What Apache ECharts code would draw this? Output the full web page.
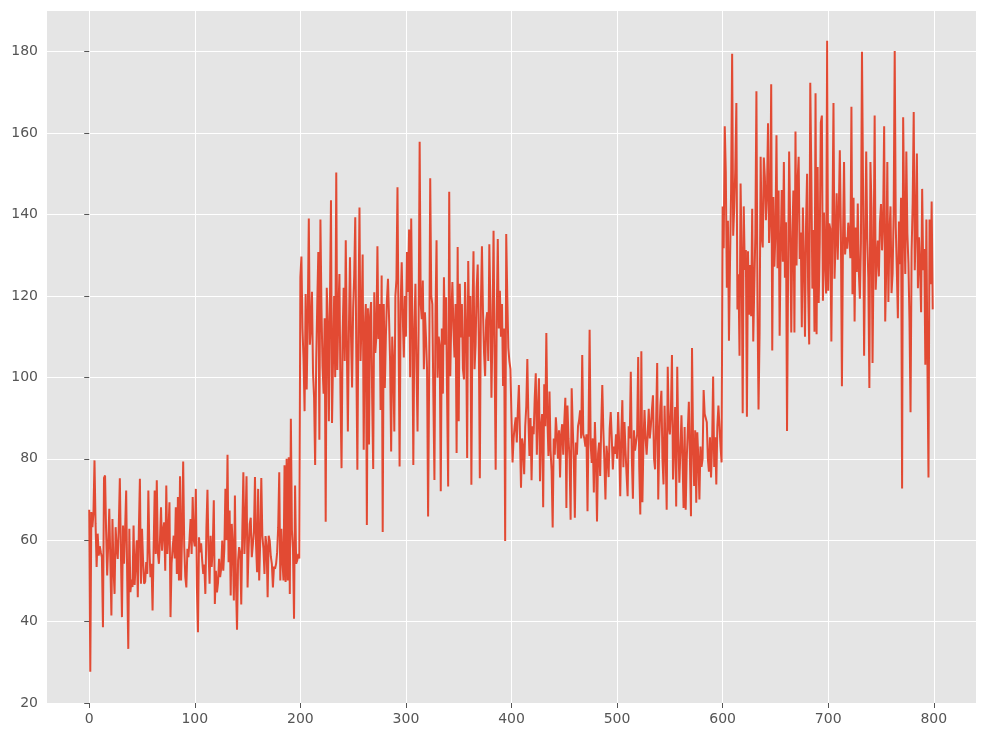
<!DOCTYPE html>
<html>
<head>
<meta charset="utf-8">
<script src="https://cdn.jsdelivr.net/npm/echarts@6/dist/echarts.min.js"></script>
<style>
  html, body { margin: 0; padding: 0; background: #fff; }
  #chart { width: 986px; height: 736px; }
</style>
</head>
<body>
<div id="chart"></div>
<script>
  // values, one array per regime
  const part1 = [
    67.5,27.7,66.9,63.2,66.5,79.6,64.0,53.4,61.6,56.2,
    58.5,57.0,55.8,38.6,75.3,75.9,62.0,51.3,59.1,67.7,
    55.0,41.5,65.2,53.0,46.8,63.2,58.0,55.4,63.5,75.2,
    57.0,41.1,63.6,54.2,62.8,72.2,50.0,33.3,62.8,47.2,
    50.3,48.5,63.6,49.0,54.2,60.0,46.0,62.5,75.1,49.3,
    62.8,55.0,49.3,49.8,54.6,51.7,72.2,58.0,50.9,54.2,
    42.7,58.0,72.2,56.6,74.7,57.0,54.2,60.0,68.1,57.4,
    62.5,64.4,52.5,73.4,56.6,62.0,69.3,41.1,54.2,58.0,
    61.1,55.5,68.1,51.7,70.6,50.1,75.7,50.1,62.0,79.3,
    58.4,51.0,48.4,57.9,55.8,60.3,65.2,56.6,70.6,60.0,
    58.5,72.6,48.4,37.4,60.7,57.0,59.2,55.0,51.7,54.0,
    46.8,63.0,72.4,57.5,49.3,61.1,53.4,58.0,69.8,44.3,
    52.5,47.2,49.5,55.4,50.9,53.0,59.9,52.5,57.9,72.6,
    60.0,81.0,54.6,67.3,46.4,64.0,58.5,45.2,71.0,49.5,
    38.0,55.0,58.3,57.0,44.2,62.0,76.7,56.6,64.0,75.7,
    48.4,58.0,64.0,65.5,55.8,56.0,62.0,75.5,59.0,52.1,
    72.6,50.1,60.0,75.3,61.0,58.0,51.7,61.0,58.5,46.0,
    61.1,59.8,56.0,54.2,48.4,53.5,53.0,54.2,57.0,63.2,
    76.7,50.1,62.8,55.0,50.1,78.4,49.7,80.0,50.1,80.4,
    46.8,89.8,62.5,58.0,40.7,73.4,54.2,55.0,56.6,55.5
  ];
  const part2 = [
    124.6,129.7,112.0,104.5,91.7,120.5,97.0,115.0,139.0,108.0,
    112.5,121.0,101.0,95.0,78.5,104.0,118.0,130.8,84.7,138.8,
    117.0,102.8,96.0,114.5,64.5,122.0,113.4,89.2,118.0,143.5,
    88.8,105.0,120.0,100.0,150.3,101.8,116.0,125.4,96.0,77.7,
    110.0,122.0,104.0,133.7,108.0,86.7,112.0,129.5,110.0,97.5,
    117.0,125.0,139.3,105.0,77.3,115.0,141.7,104.0,114.0,130.2,
    82.2,112.0,118.0,63.7,117.0,83.5,115.0,118.5,95.0,77.5,
    120.9,106.0,110.0,132.2,109.4,118.0,92.0,125.0,62.0,118.0,
    97.4,110.0,119.0,124.2,114.7,104.0,81.8,110.0,103.0,86.7,
    120.0,124.0,146.7,112.0,78.1,118.0,128.3,115.0,104.9,120.0,
    110.0,130.8,121.0,136.3,100.0,139.0,115.0,78.5,112.0,123.0,
    102.4,86.7,112.0,157.9,118.0,114.3,123.8,102.0,116.0,109.8,
    102.0,65.8,100.0,148.9,120.0,118.0,95.0,74.8,115.0,133.7,
    99.9,110.0,108.0,72.0,112.0,96.0,124.6,108.0,119.7,95.0,
    73.2,145.6,100.3,115.0,123.4,112.0,104.9,118.0,81.4,132.0,
    89.2,123.0,109.8,118.0,102.0,99.5,123.4,112.0,80.2,128.6,
    110.0,120.0,73.6,115.0,131.0,102.0,108.1,122.0,127.7,110.0,
    75.2,118.0,132.2,116.0,106.0,100.3,114.0,116.0,104.0,132.7,
    118.0,95.0,112.0,136.0,105.0,77.3,115.0,134.0,112.0,121.3,
    110.0,118.0,97.9,112.0,59.8,135.2,120.0,107.2,104.0,102.0
  ];
  const part3 = [
    90.0,79.1,85.0,88.0,90.2,84.0,92.0,98.1,86.0,72.9,
    85.0,83.0,76.2,88.0,92.9,104.5,90.0,80.7,90.0,74.7,
    88.0,86.0,95.0,101.0,81.0,92.0,99.8,74.5,88.0,91.0,
    68.1,98.3,88.0,110.9,90.0,80.7,96.5,82.0,77.0,63.1,
    85.0,81.0,90.2,86.0,80.0,87.0,75.4,86.0,88.5,81.0,
    89.0,95.0,67.9,93.1,85.0,80.0,65.0,97.3,88.0,80.0,
    65.5,84.0,81.0,88.0,89.4,91.9,85.0,105.5,86.0,85.0,
    83.0,86.0,67.1,88.0,111.7,83.6,79.0,85.0,71.7,89.0,
    80.0,64.6,81.2,84.0,75.8,88.0,98.1,87.0,79.0,70.0,
    83.2,80.0,75.5,87.4,91.5,85.0,77.4,83.0,81.2,86.0,
    80.0,91.5,84.0,70.8,86.0,94.4,77.9,89.0,82.0,76.0,
    70.8,88.0,85.0,101.4,80.0,70.2,87.0,82.0,84.0,86.0,
    105.0,78.0,66.3,106.4,69.3,84.0,92.0,85.0,81.0,86.0,
    92.3,85.0,88.0,92.0,95.6,80.0,77.4,89.0,103.5,70.0,
    85.0,93.0,96.7,80.0,73.7,93.0,82.0,67.5,102.6,88.0,
    86.0,92.0,105.5,74.9,84.0,92.7,68.3,102.6,85.0,74.1,
    82.0,90.7,80.0,67.9,87.8,67.5,80.0,86.9,94.0,80.0,
    65.9,107.2,84.0,73.3,87.0,69.2,86.5,80.0,70.0,83.0,
    78.0,80.0,96.9,91.0,90.0,89.0,80.0,76.8,85.3,75.4,
    83.0,100.2,78.0,85.3,73.7,88.0,93.1,88.0,83.0,79.1
  ];
  const part4 = [
    142.0,131.7,161.7,150.4,122.0,138.5,109.0,128.3,145.6,179.5,
    134.8,142.0,151.2,167.4,116.7,125.3,105.3,147.6,130.2,91.2,
    142.0,126.4,131.3,90.3,131.0,115.4,127.6,115.0,141.4,108.8,
    122.5,135.2,170.3,118.6,92.1,110.9,154.2,134.7,131.9,154.0,
    149.2,138.6,145.1,162.4,133.0,139.5,172.0,106.6,144.3,127.2,
    135.0,159.5,126.8,145.9,110.2,132.7,146.0,128.4,152.9,124.5,
    138.1,86.8,125.4,155.5,138.0,111.0,133.6,145.9,111.0,160.4,
    127.5,148.2,154.2,129.1,135.6,112.3,141.7,128.9,110.0,137.5,
    150.0,121.5,108.1,172.4,150.4,121.8,136.2,111.2,169.8,110.6,
    151.7,118.3,133.4,162.6,164.3,118.8,140.5,128.2,120.6,182.7,
    121.3,137.8,136.5,108.8,137.6,167.4,124.2,133.5,145.2,128.9,
    140.4,155.8,135.9,97.8,133.7,152.9,130.2,134.4,131.6,138.0,
    134.6,129.3,166.5,120.4,144.1,113.7,136.8,125.9,142.7,126.0,
    119.3,133.0,180.0,147.0,105.3,132.0,155.5,134.0,124.5,97.4,
    152.9,141.8,103.5,130.0,164.3,121.5,128.8,133.6,124.8,137.9,
    142.6,131.2,138.4,161.7,113.7,127.0,152.9,118.5,135.4,142.0,
    120.7,125.5,140.2,180.2,137.0,126.3,114.5,138.3,127.8,144.1,
    72.7,163.9,140.1,125.4,155.5,135.3,128.0,113.9,91.4,130.9,
    142.7,165.2,126.3,137.0,155.0,121.9,134.4,127.2,116.0,146.3,
    126.3,131.5,103.1,138.8,102.9,75.4,138.8,122.9,143.2,116.7
  ];
  const xTicks = [0, 100, 200, 300, 400, 500, 600, 700, 800];
  const yTicks = [20, 40, 60, 80, 100, 120, 140, 160, 180];

  const values = part1.concat(part2, part3, part4);
  const points = values.map((v, i) => [i, v]);

  const chart = echarts.init(document.getElementById("chart"), null, { renderer: "canvas" });

  const labelStyle = {
    color: "#555555",
    fontSize: 14,
    fontFamily: "DejaVu Sans",
  };

  chart.setOption({
    animation: false,
    backgroundColor: "#ffffff",
    grid: {
      left: 47,
      top: 11,
      right: 10,
      bottom: 33,
      show: true,
      backgroundColor: "#E5E5E5",
      borderWidth: 0,
    },
    xAxis: {
      type: "value",
      min: -40,
      max: 840,
      axisLine: { show: false },
      axisTick: {
        show: true,
        length: 5,
        customValues: xTicks,
        lineStyle: { color: "#555555", width: 1 },
      },
      axisLabel: { ...labelStyle, margin: 9, customValues: xTicks },
      splitLine: { show: true, lineStyle: { color: "#ffffff", width: 1 } },
    },
    yAxis: {
      type: "value",
      min: 20,
      max: 190,
      interval: 20,
      axisLine: { show: false },
      axisTick: {
        show: true,
        length: 5,
        customValues: yTicks,
        lineStyle: { color: "#555555", width: 1 },
      },
      axisLabel: { ...labelStyle, margin: 9, customValues: yTicks },
      splitLine: { show: true, lineStyle: { color: "#ffffff", width: 1 } },
    },
    series: [
      {
        type: "line",
        data: points,
        showSymbol: false,
        symbol: "none",
        lineStyle: { color: "#E24A33", width: 2 },
        z: 3,
      },
    ],
  });
</script>
</body>
</html>
